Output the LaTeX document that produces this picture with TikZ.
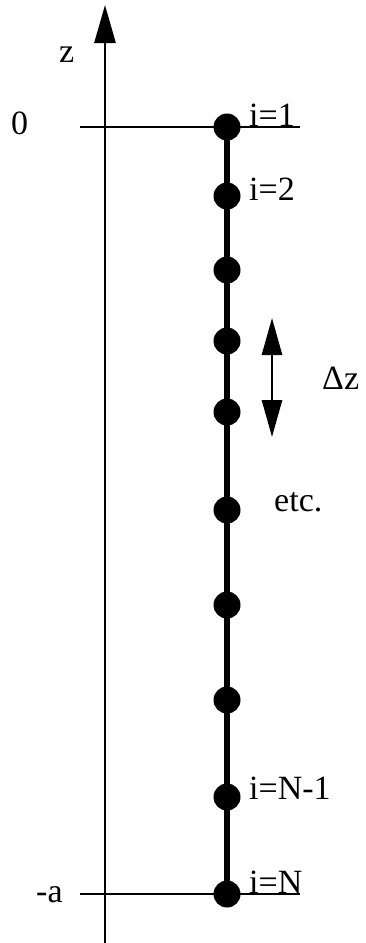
\documentclass[tikz,border=0pt]{standalone}
\usepackage{fontspec}
\setmainfont{Liberation Serif}
\usetikzlibrary{arrows.meta}
\begin{document}
\begin{tikzpicture}[x=1pt,y=-1pt,
  thin line/.style={line width=2.8pt},
  rod/.style={line width=6pt},
  dot/.style={circle,fill=black,minimum size=27pt,inner sep=0pt},
  lbl/.style={font=\fontsize{34}{38}\selectfont,inner sep=0pt,anchor=base west},
  tip/.style={-{Triangle[length=38pt,width=21pt]}}]
\useasboundingbox (0,0) rectangle (366,943);
% axis
\coordinate (axb) at (105,943);
\coordinate (axt) at (105,5);
\draw[thin line,tip] (axb) -- (axt);
% horizontal lines
\coordinate (h0l) at (80,127);
\coordinate (h0r) at (300,127);
\coordinate (hal) at (80,894);
\coordinate (har) at (300,894);
\draw[thin line] (h0l) -- (h0r);
\draw[thin line] (hal) -- (har);
% rod
\coordinate (rt) at (227,127);
\coordinate (rb) at (227,894);
\draw[rod] (rt) -- (rb);
% dots
\foreach \y [count=\i] in {127,196,270,341,412,510,605,700,797,894}
  \node[dot] (d\i) at (227,\y) {};
% delta z arrow
\coordinate (da) at (272,318);
\coordinate (db) at (272,437);
\draw[line width=2.8pt,{Triangle[length=37pt,width=20pt]}-{Triangle[length=37pt,width=20pt]}] (db) -- (da);
% labels
\node[lbl] (z) at (59,62) {z};
\node[lbl] (zero) at (11,134) {0};
\node[lbl] (ma) at (36,902) {-a};
\node[lbl] (l1) at (249,126) {i=1};
\node[lbl] (l2) at (249,200) {i=2};
\node[lbl] (dz) at (322,389) {Δz};
\node[lbl] (etc) at (274,511) {etc.};
\node[lbl] (lN1) at (249,799) {i=N-1};
\node[lbl] (lN) at (249,893) {i=N};
\end{tikzpicture}
\end{document}
